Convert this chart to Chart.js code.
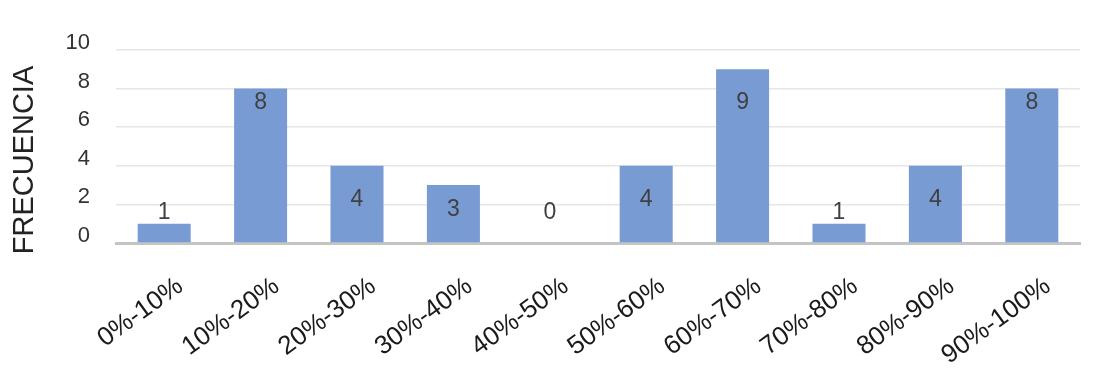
<!DOCTYPE html>
<html>
<head>
<meta charset="utf-8">
<script src="https://cdn.jsdelivr.net/npm/chart.js@4/dist/chart.umd.min.js"></script>
<style>
html,body{margin:0;padding:0;background:#fff;}
canvas{display:block;}
</style>
</head>
<body>
<canvas id="c" width="1105" height="388"></canvas>
<script>
const categories = ["0%-10%","10%-20%","20%-30%","30%-40%","40%-50%","50%-60%","60%-70%","70%-80%","80%-90%","90%-100%"];
const frequencies = [1, 8, 4, 3, 0, 4, 9, 1, 4, 8];
const yTicks = [0, 2, 4, 6, 8, 10];
const yTitle = "FRECUENCIA";

const FONT = "'Liberation Sans', Arial, sans-serif";

const valueLabels = {
  id: 'valueLabels',
  afterDatasetsDraw(chart) {
    const ctx = chart.ctx;
    const y = chart.scales.y;
    const meta = chart.getDatasetMeta(0);
    ctx.save();
    ctx.font = "23px " + FONT;
    ctx.fillStyle = "#404040";
    ctx.textAlign = "center";
    ctx.textBaseline = "middle";
    meta.data.forEach((bar, i) => {
      const v = frequencies[i];
      let pos;
      if (v >= 6) pos = Math.min(v, 8) - 0.75;
      else pos = Math.max(v / 2 + 0.25, 1.55);
      ctx.fillText(String(v), bar.x, y.getPixelForValue(pos));
    });
    // y axis title
    ctx.translate(25, 160);
    ctx.rotate(-Math.PI / 2);
    ctx.font = "29px " + FONT;
    ctx.fillStyle = "#222222";
    ctx.fillText(yTitle, 0, 0);
    ctx.restore();
  }
};

new Chart(document.getElementById('c'), {
  type: 'bar',
  data: {
    labels: categories,
    datasets: [{
      data: frequencies,
      backgroundColor: '#789bd4',
      borderWidth: 0,
      categoryPercentage: 1,
      barPercentage: 0.55
    }]
  },
  options: {
    responsive: false,
    animation: false,
    devicePixelRatio: 1,
    layout: { padding: { top: 50, right: 25, left: 8, bottom: 0 } },
    plugins: { legend: { display: false }, tooltip: { enabled: false } },
    scales: {
      x: {
        offset: true,
        grid: { display: false, drawTicks: false },
        border: { color: '#c4c4c4', width: 3 },
        ticks: {
          color: '#1a1a1a',
          font: { family: FONT, size: 26 },
          maxRotation: 36, minRotation: 36,
          padding: 28,
          labelOffset: 16,
          autoSkip: false
        },
        afterFit(scale) { scale.height = 388 - 243; }
      },
      y: {
        min: 0, max: 10,
        afterBuildTicks(scale) { scale.ticks = yTicks.map(v => ({ value: v })); },
        grid: { color: '#e6e6e6', lineWidth: 1.5, drawTicks: false },
        border: { display: false },
        ticks: {
          color: '#333333',
          font: { family: FONT, size: 22 },
          padding: 26,
          labelOffset: -7
        },
        afterFit(scale) { scale.width = 116 - 8; }
      }
    }
  },
  plugins: [valueLabels]
});
</script>
</body>
</html>
